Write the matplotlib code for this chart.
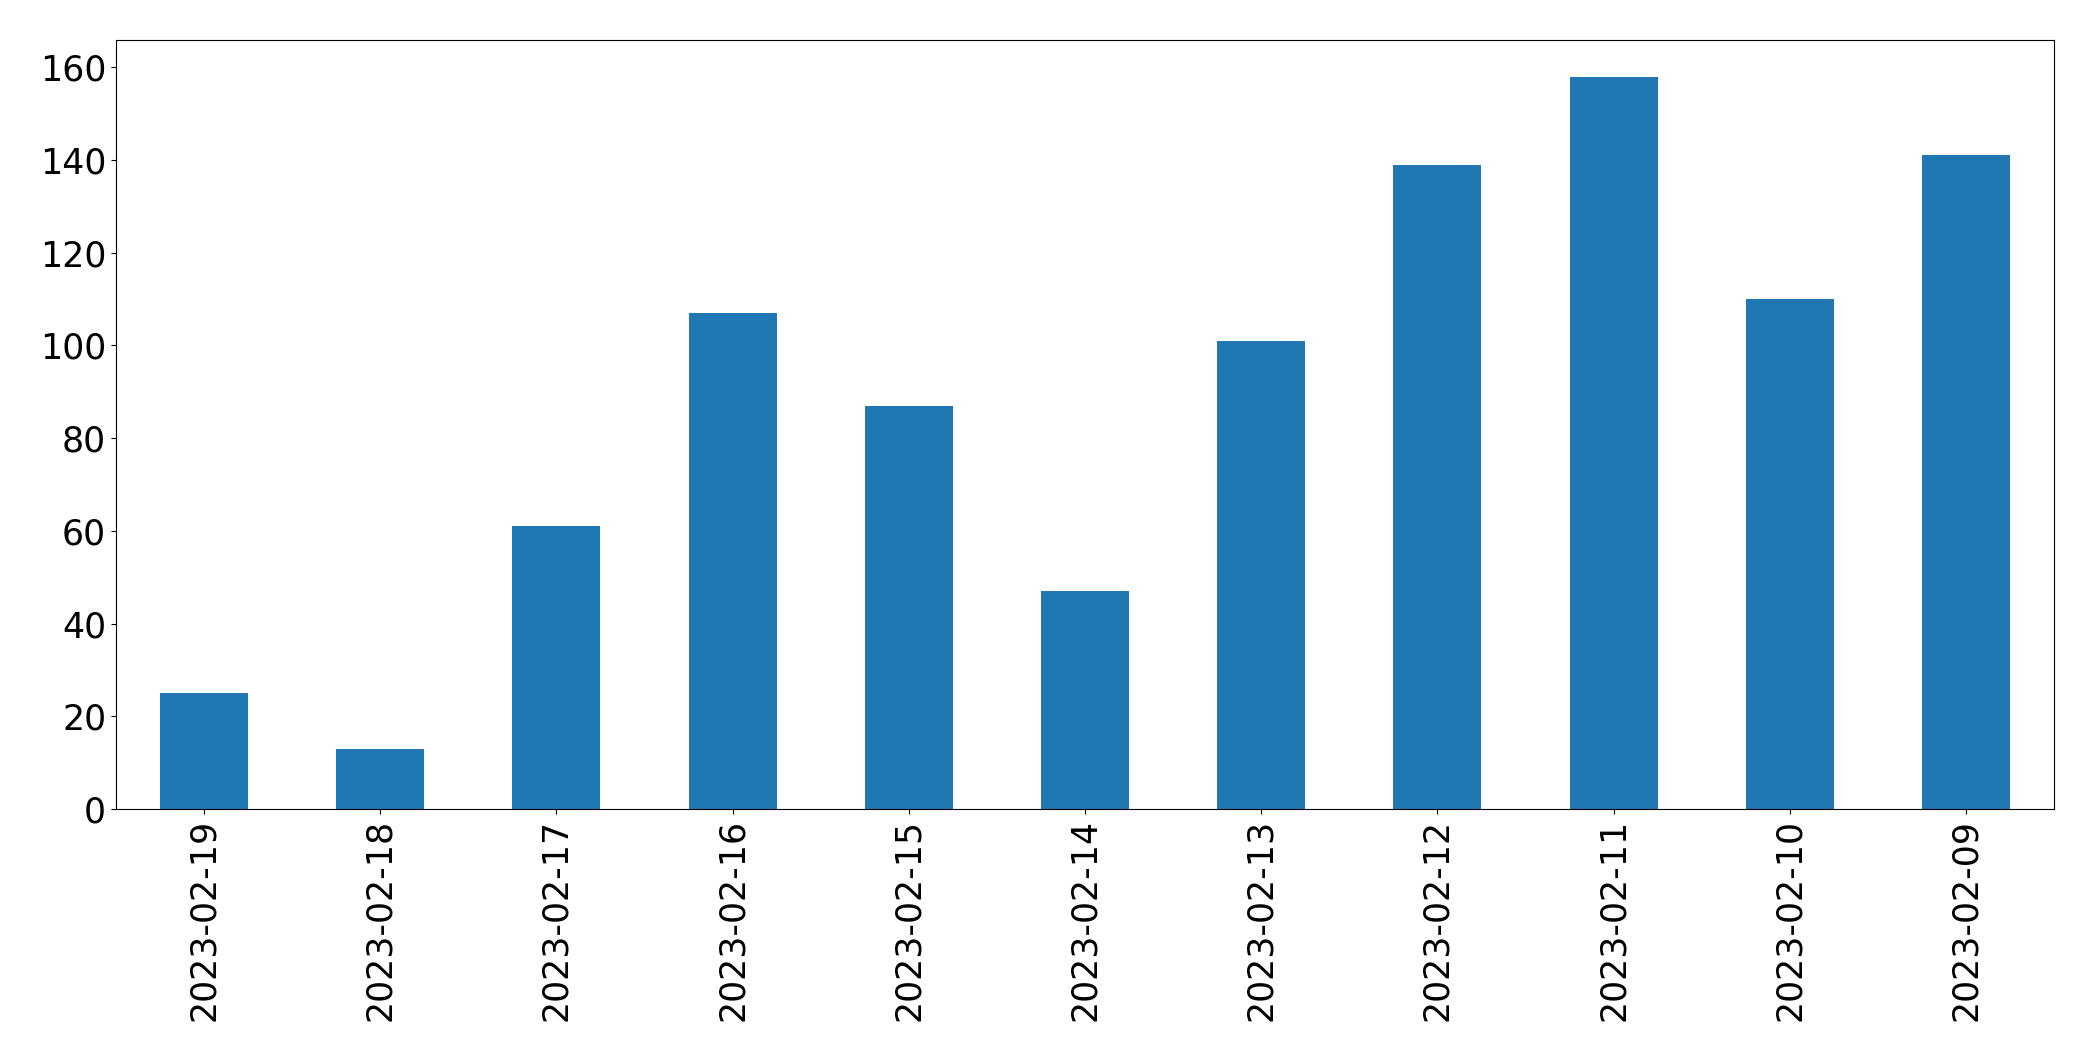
import matplotlib
matplotlib.use("Agg")
import matplotlib.pyplot as plt
import numpy as np

dates = ["2023-02-19", "2023-02-18", "2023-02-17", "2023-02-16", "2023-02-15",
         "2023-02-14", "2023-02-13", "2023-02-12", "2023-02-11", "2023-02-10",
         "2023-02-09"]
counts = [25, 13, 61, 107, 87, 47, 101, 139, 158, 110, 141]

fig = plt.figure(figsize=(20.93, 10.61), dpi=100)
ax = fig.add_axes([0.0554, 0.2375, 0.9814 - 0.0554, 0.9623 - 0.2375])
x = np.arange(len(dates))
ax.bar(x, counts, width=0.5, color="#1f77b4")
ax.set_xlim(-0.5, len(dates) - 0.5)
ax.set_ylim(0, max(counts) * 1.05)
ax.set_yticks([0, 20, 40, 60, 80, 100, 120, 140, 160])
ax.set_xticks(x)
ax.set_xticklabels(dates, rotation=90)
ax.tick_params(axis="both", labelsize=25)
fig.savefig("out.png", dpi=100)
